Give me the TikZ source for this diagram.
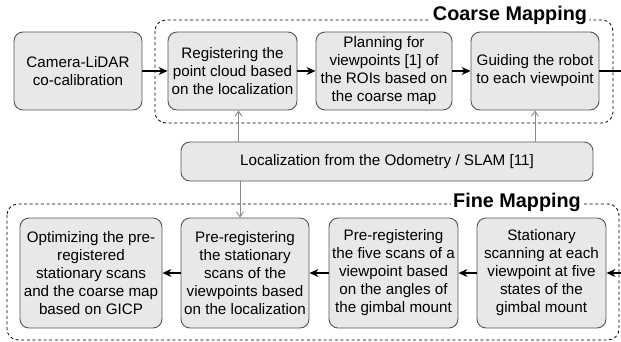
\documentclass[tikz,border=0pt]{standalone}
\usepackage{fontspec}
\setmainfont{Liberation Sans}
\usetikzlibrary{arrows.meta}
\definecolor{boxfill}{HTML}{E8E8E8}
\definecolor{boxline}{HTML}{555555}
\definecolor{locline}{HTML}{8A8A8A}
\newcommand{\boxfont}{\fontsize{15.2}{18}\selectfont}
\newcommand{\titlefont}{\fontsize{19.8}{22}\selectfont\bfseries}
\tikzset{
  stepbox/.style={draw=boxline, fill=boxfill, line width=0.9pt, rounded corners=9pt,
    align=center, inner sep=1pt, font=\boxfont},
  stage/.style={dash pattern=on 3pt off 2.6pt, line width=0.8pt, rounded corners=11pt},
  stagetitle/.style={fill=white, inner sep=2pt, font=\titlefont},
  flow/.style={line width=1.2pt, -{Stealth[length=9pt,width=8pt]}},
  loc/.style={draw=locline, line width=0.9pt, -{Straight Barb[length=5pt,width=7pt]}}
}
\begin{document}
\begin{tikzpicture}[x=1pt,y=-1pt]
\useasboundingbox (0,0) rectangle (621,341);
\clip (0,0) rectangle (621,341);
% stages
\draw[stage] (155,20) rectangle (613,123);
\draw[stage] (7,204) rectangle (619,340);
\node[stagetitle] (coarse) at (510,15) {Coarse Mapping};
\node[stagetitle] (fine) at (517,202) {Fine Mapping};
% upper row
\node[stepbox, minimum width=128, minimum height=78] (calib) at (78,71) {Camera-LiDAR\\co-calibration};
\node[stepbox, minimum width=129, minimum height=78] (reg) at (232.5,71) {Registering the\\point cloud based\\on the localization};
\node[stepbox, minimum width=136, minimum height=78] (plan) at (384,71) {Planning for\\viewpoints [1] of\\the ROIs based on\\the coarse map};
\node[stepbox, minimum width=128, minimum height=78] (guide) at (535,71) {Guiding the robot\\to each viewpoint};
% localization
\node[stepbox, minimum width=412, minimum height=39] (loc) at (387,161.5) {Localization from the Odometry / SLAM [11]};
% lower row
\node[stepbox, minimum width=142, minimum height=110] (opt) at (91,273) {Optimizing the pre-\\registered\\stationary scans\\and the coarse map\\based on GICP};
\node[stepbox, minimum width=128, minimum height=110] (prestat) at (245,273) {Pre-registering\\the stationary\\scans of the\\viewpoints based\\on the localization};
\node[stepbox, minimum width=129, minimum height=110] (prefive) at (393.5,273) {Pre-registering\\the five scans of a\\viewpoint based\\on the angles of\\the gimbal mount};
\node[stepbox, minimum width=129, minimum height=110] (scan) at (541.5,273) {Stationary\\scanning at each\\viewpoint at five\\states of the\\gimbal mount};
\coordinate (wrap) at (632,71);
% connectors
\draw[flow] (calib) -- (reg);
\draw[flow] (reg) -- (plan);
\draw[flow] (plan) -- (guide);
\draw[flow] (guide.east) -- (wrap) |- (scan.east);
\draw[flow] (scan) -- (prefive);
\draw[flow] (prefive) -- (prestat);
\draw[flow] (prestat) -- (opt);
\draw[loc] (loc.north -| reg.south) ++(6,0) -- ([xshift=6pt]reg.south);
\draw[loc] (loc.north -| guide.south) -- (guide.south);
\draw[loc] (loc.south -| prestat.north) ++(-5,0) -- ([xshift=-5pt]prestat.north);
\end{tikzpicture}
\end{document}
